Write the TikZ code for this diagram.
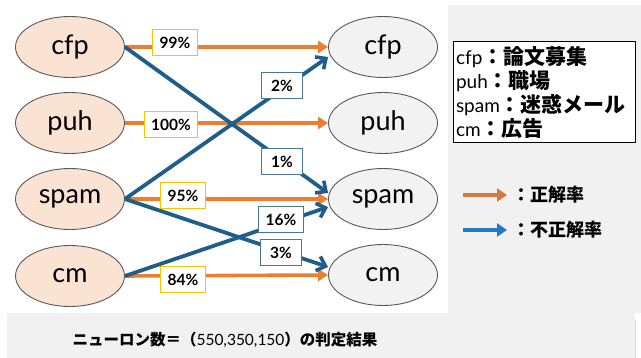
\documentclass[tikz,border=0pt]{standalone}
\usepackage{fontspec}
\setmainfont{Lato}
\newfontfamily\jp{Noto Sans CJK JP}
\usetikzlibrary{arrows.meta,shapes.geometric,calc}

\definecolor{panel}{HTML}{F1F1F1}
\definecolor{rim}{HTML}{5A5A5A}
\definecolor{peach}{HTML}{FBE3D4}
\definecolor{pale}{HTML}{F2F2F2}
\definecolor{okline}{HTML}{ED7D31}
\definecolor{ngline}{HTML}{1F5E8A}
\definecolor{gold}{HTML}{FFC000}
\definecolor{ngrim}{HTML}{4A7797}
\definecolor{okkey}{HTML}{D27A42}
\definecolor{ngkey}{HTML}{2479C4}

\tikzset{
  srcnode/.style={ellipse, draw=rim, line width=0.9pt, fill=peach,
    minimum width=109pt, minimum height=61pt, inner sep=0pt,
    font=\fontsize{27}{29}\selectfont},
  dstnode/.style={srcnode, fill=pale},
  okarrow/.style={draw=okline, line width=3.6pt,
    -{Triangle[length=10pt,width=12pt]}},
  ngarrow/.style={draw=ngline, line width=3.8pt,
    -{Straight Barb[length=8pt,width=15pt,line width=3.6pt]}},
  oklabel/.style={draw=gold, line width=1pt, fill=white,
    font=\bfseries\fontsize{15.5}{17}\selectfont,
    minimum width=41pt, minimum height=26pt, inner xsep=7pt, inner ysep=0pt},
  nglabel/.style={oklabel, draw=ngrim},
  keybox/.style={draw=black, line width=1pt, fill=white,
    minimum width=182pt, minimum height=101pt, text width=176pt,
    inner xsep=3pt, align=left, font=\fontsize{19}{24}\selectfont},
  keyarrowok/.style={draw=okkey, line width=4.5pt,
    -{Triangle[length=10pt,width=13pt]}},
  keyarrowng/.style={draw=ngkey, line width=4.5pt,
    -{Triangle[length=10pt,width=13pt]}},
  keytext/.style={anchor=west, inner sep=0pt,
    font=\jp\bfseries\fontsize{18}{20}\selectfont},
}

\begin{document}
\begin{tikzpicture}[x=1pt,y=-1pt]
\useasboundingbox (0,0) rectangle (641,358);
\fill[white] (0,0) rectangle (641,358);
% grey panels: key area on the right and caption strip below
\fill[panel] (448,5) rectangle (641,313);
\fill[panel] (7,313) rectangle (635,358);
\draw[draw=black!15, line width=0.8pt] (635.5,320) -- (635.5,358);

% input classes
\node[srcnode] (lcfp)  at (70,47)  {cfp};
\node[srcnode] (lpuh)  at (70,123) {puh};
\node[srcnode] (lspam) at (70,199) {spam};
\node[srcnode] (lcm)   at (70,276) {cm};

% predicted classes
\node[dstnode] (rcfp)  at (383,47)  {cfp};
\node[dstnode] (rpuh)  at (383,123) {puh};
\node[dstnode] (rspam) at (383,199) {spam};
\node[dstnode] (rcm)   at (383,275) {cm};

% correct predictions
\draw[okarrow] (lcfp.east)  -- (rcfp.west);
\draw[okarrow] (lpuh.east)  -- (rpuh.west);
\draw[okarrow] (lspam.east) -- (rspam.west);
\draw[okarrow] (lcm.east)   -- (rcm.west);

% wrong predictions
\draw[ngarrow] (lcfp.east)  -- ($(rspam.west)+(0,-6)$);
\draw[ngarrow] (lspam.east) -- ($(rcfp.west)+(0,10)$);
\draw[ngarrow] (lspam.east) -- ($(rcm.west)+(0,-8)$);
\draw[ngarrow] (lcm.east)   -- ($(rspam.west)+(0,8)$);

% rates
\node[oklabel] (p99)  at (175,43)  {99\%};
\node[oklabel] (p100) at (171,125) {100\%};
\node[oklabel] (p95)  at (183,196) {95\%};
\node[oklabel] (p84)  at (183,280) {84\%};
\node[nglabel] (p2)   at (282,86)  {2\%};
\node[nglabel] (p1)   at (282,162) {1\%};
\node[nglabel] (p16)  at (281,220) {16\%};
\node[nglabel] (p3)   at (281,253) {3\%};

% class names
\node[keybox] (key) at (544,92.5)
  {cfp{\jp\bfseries\fontsize{21}{24}\selectfont ：論文募集}\\
   puh{\jp\bfseries\fontsize{21}{24}\selectfont ：職場}\\
   spam{\jp\bfseries\fontsize{21}{24}\selectfont ：迷惑メール}\\
   cm{\jp\bfseries\fontsize{21}{24}\selectfont ：広告}};

% arrow legend
\coordinate (ok0) at (463,195);
\coordinate (ok1) at (507,195);
\coordinate (ng0) at (463,230);
\coordinate (ng1) at (507,230);
\draw[keyarrowok] (ok0) -- (ok1);
\draw[keyarrowng] (ng0) -- (ng1);
\node[keytext] (oktext) at (512,195) {：正解率};
\node[keytext] (ngtext) at (512,230) {：不正解率};

% caption
\node[inner sep=0pt, font=\jp\bfseries\fontsize{15.5}{17}\selectfont] (cap) at (225,340)
  {ニューロン数＝（{\rmfamily\mdseries 550,350,150}）の判定結果};
\end{tikzpicture}
\end{document}
